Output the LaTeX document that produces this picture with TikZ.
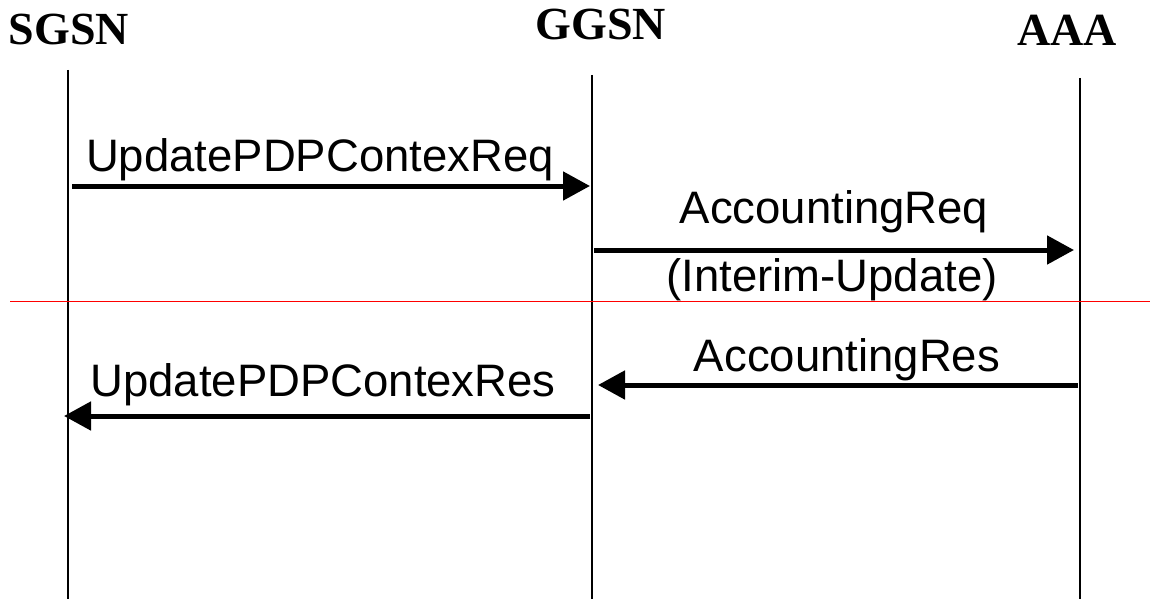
\documentclass[tikz,border=0pt]{standalone}
\usepackage{fontspec}
\setmainfont{Liberation Serif}
\setsansfont{Liberation Sans}
\usetikzlibrary{arrows.meta}
\tikzset{
  entity/.style={font=\fontsize{46}{50}\selectfont\bfseries, inner sep=0pt, anchor=base},
  msgtext/.style={font=\fontsize{45.5}{48}\sffamily, inner sep=0pt, anchor=base},
  lifeline/.style={line width=1.6pt},
  msgarrow/.style={line width=5pt, -{Triangle[length=27pt,width=28pt]}},
}
\begin{document}
\begin{tikzpicture}[x=1pt, y=-1pt, line join=round]
\useasboundingbox (0,0) rectangle (1155,599);
% entities
\node[entity] (sgsn) at (69,45) {SGSN};
\node[entity] (ggsn) at (601,40) {GGSN};
\node[entity] (aaa) at (1067,46) {AAA};
% lifelines
\coordinate (sgsnTop) at (68,70); \coordinate (sgsnBot) at (68,599);
\coordinate (ggsnTop) at (592,75); \coordinate (ggsnBot) at (592,599);
\coordinate (aaaTop) at (1080,78); \coordinate (aaaBot) at (1080,599);
\draw[lifeline] (sgsnTop)--(sgsnBot);
\draw[lifeline] (ggsnTop)--(ggsnBot);
\draw[lifeline] (aaaTop)--(aaaBot);
% separator
\coordinate (sepL) at (10,301); \coordinate (sepR) at (1150,301);
\draw[red, line width=1pt] (sepL)--(sepR);
% messages
\coordinate (m1a) at (72,186); \coordinate (m1b) at (590,186);
\coordinate (m2a) at (594,250); \coordinate (m2b) at (1074,250);
\coordinate (m3a) at (1078,385); \coordinate (m3b) at (598,385);
\coordinate (m4a) at (590,416); \coordinate (m4b) at (64,416);
\draw[msgarrow] (m1a)--(m1b);
\draw[msgarrow] (m2a)--(m2b);
\draw[msgarrow] (m3a)--(m3b);
\draw[msgarrow] (m4a)--(m4b);
\node[msgtext] (req) at (320,171) {UpdatePDPContexReq};
\node[msgtext] (accreq) at (834,223) {AccountingReq};
\node[msgtext] (interim) at (832,291) {(Interim-Update)};
\node[msgtext] (accres) at (847,371) {AccountingRes};
\node[msgtext] (res) at (323,396) {UpdatePDPContexRes};
\end{tikzpicture}
\end{document}
